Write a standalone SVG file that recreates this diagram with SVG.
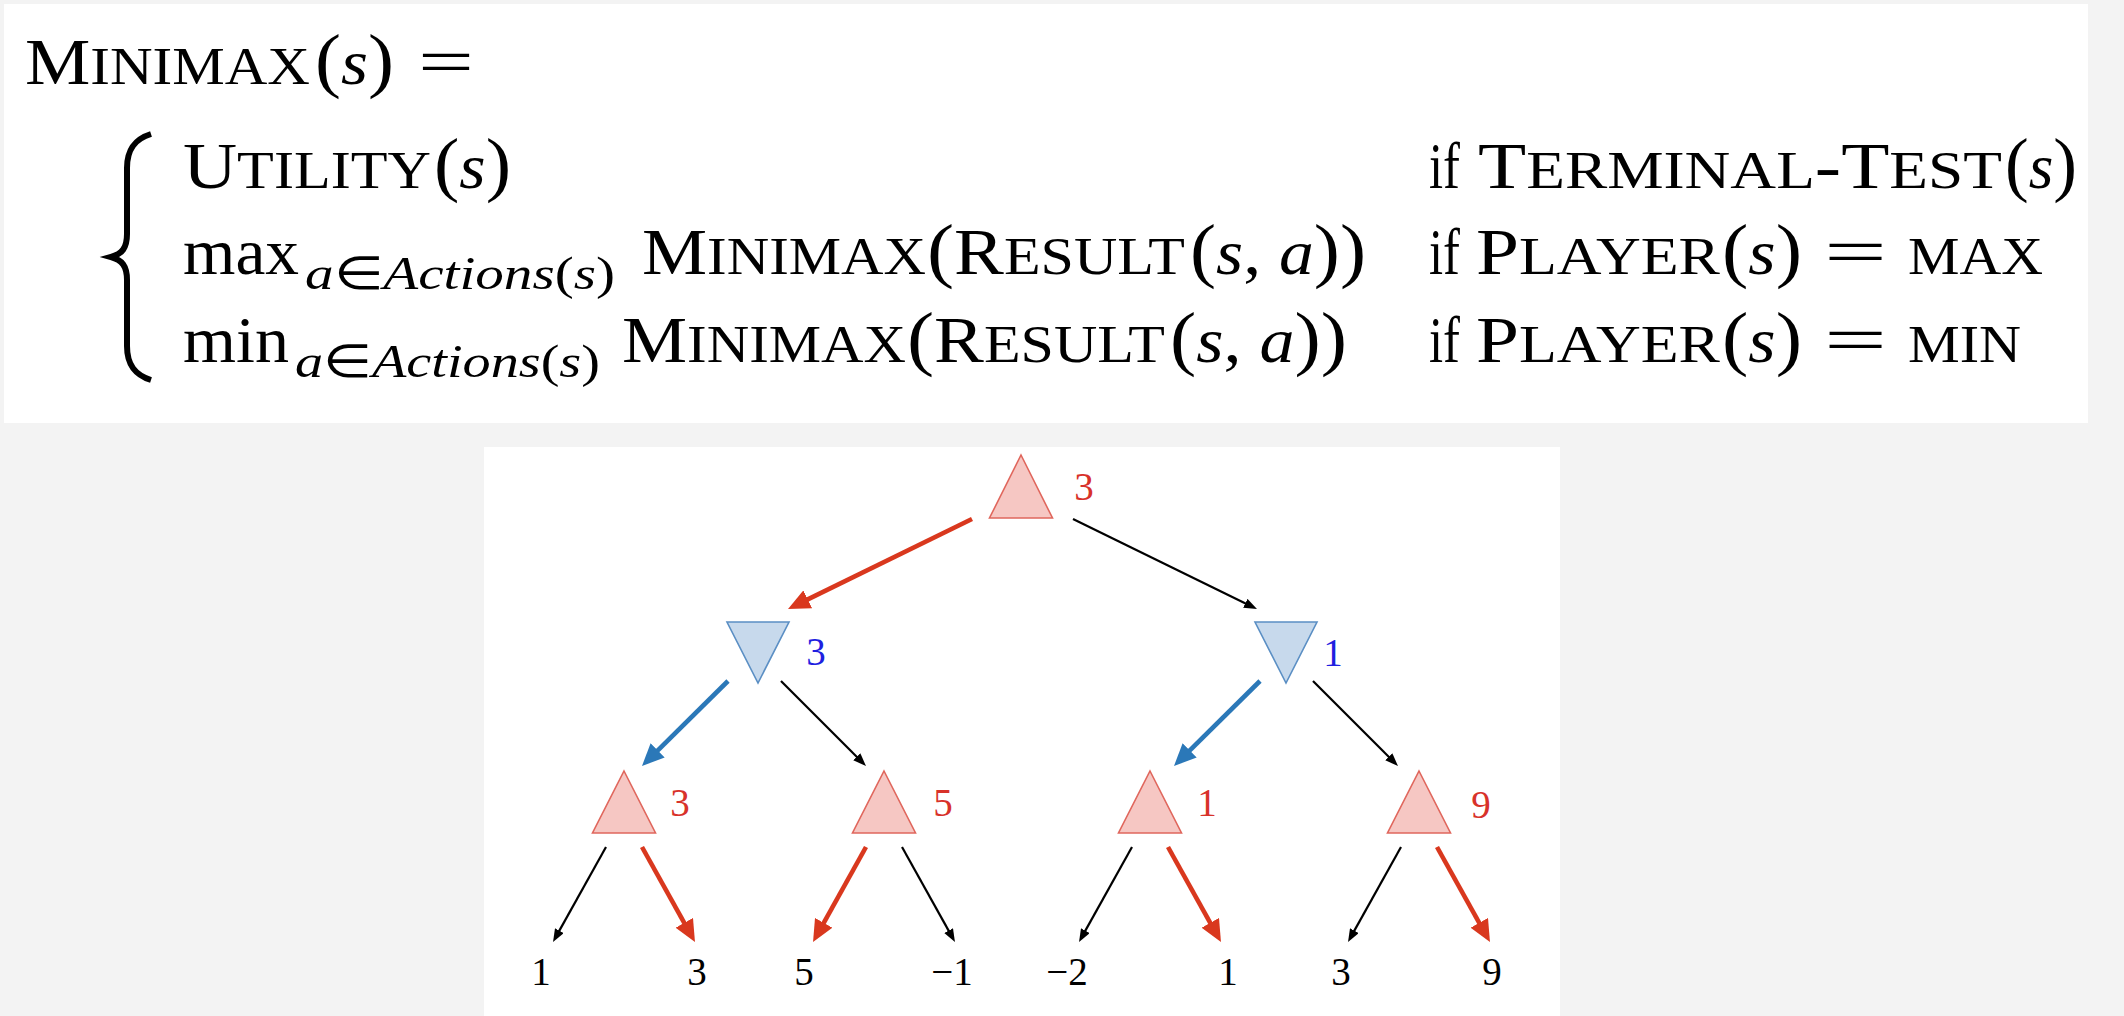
<svg xmlns="http://www.w3.org/2000/svg" width="2124" height="1016" viewBox="0 0 2124 1016">
<defs>
<style>
.t{font-family:"Liberation Serif","Times New Roman",serif;fill:#000}
.C{font-size:66px}
.c{font-size:53px}
.p{font-size:72px}
.i{font-size:64px;font-style:italic}
.n{font-size:66px}
.sub{font-family:"Liberation Serif","Times New Roman",serif;font-size:46px;font-style:italic;fill:#000}
.su{font-style:normal}
.sp{font-size:46px;font-style:normal}
.max{fill:#f6c7c3;stroke:#e0675d;stroke-width:1.6}
.min{fill:#c7d9ec;stroke:#5b8fc4;stroke-width:1.6}
.lr{font-family:"Liberation Serif","Times New Roman",serif;font-size:39px;fill:#d8322a;text-anchor:middle}
.lb{font-family:"Liberation Serif","Times New Roman",serif;font-size:39px;fill:#1f1fe0;text-anchor:middle}
.lk{font-family:"Liberation Serif","Times New Roman",serif;font-size:39px;fill:#000;text-anchor:middle}
.er{stroke:#d9381e;stroke-width:4.6;fill:none;marker-end:url(#ahr)}
.eb{stroke:#2b78b8;stroke-width:4.6;fill:none;marker-end:url(#ahb)}
.ek{stroke:#000;stroke-width:2.2;fill:none;marker-end:url(#ahk)}
</style>
<marker id="ahr" markerUnits="userSpaceOnUse" viewBox="0 0 22 20" markerWidth="22" markerHeight="20" refX="4" refY="10" orient="auto"><path d="M0,0 L22,10 L0,20 z" fill="#d9381e"/></marker>
<marker id="ahb" markerUnits="userSpaceOnUse" viewBox="0 0 22 20" markerWidth="22" markerHeight="20" refX="4" refY="10" orient="auto"><path d="M0,0 L22,10 L0,20 z" fill="#2b78b8"/></marker>
<marker id="ahk" markerUnits="userSpaceOnUse" viewBox="0 0 13 10" markerWidth="13" markerHeight="10" refX="2" refY="5" orient="auto"><path d="M0,0 L13,5 L0,10 z" fill="#000"/></marker>
</defs>
<rect x="0" y="0" width="2124" height="1016" fill="#f3f3f3"/>
<rect x="4" y="4" width="2084" height="419" fill="#fff"/>
<rect x="484" y="447" width="1076" height="569" fill="#fff"/>

<g id="formula">
<text class="t" x="25" y="84" textLength="285" lengthAdjust="spacingAndGlyphs"><tspan class="C">M</tspan><tspan class="c">INIMAX</tspan></text>
<text class="t" x="315" y="84" textLength="79" lengthAdjust="spacingAndGlyphs"><tspan class="p">(</tspan><tspan class="i">s</tspan><tspan class="p">)</tspan></text>
<text class="t n" x="418" y="84" textLength="56" lengthAdjust="spacingAndGlyphs">=</text>

<g id="brace"><path d="M151,134 C135,139 127,149 127,168 L127,234 C127,248 122,254 111,257 C122,260 127,266 127,280 L127,346 C127,365 135,375 151,380" fill="none" stroke="#000" stroke-width="6"/></g>

<text class="t" x="183" y="188" textLength="248" lengthAdjust="spacingAndGlyphs"><tspan class="C">U</tspan><tspan class="c">TILITY</tspan></text>
<text class="t" x="434" y="188" textLength="77" lengthAdjust="spacingAndGlyphs"><tspan class="p">(</tspan><tspan class="i">s</tspan><tspan class="p">)</tspan></text>
<text class="t n" x="1429" y="188" textLength="31" lengthAdjust="spacingAndGlyphs">if</text>
<text class="t" x="1478" y="188" textLength="524" lengthAdjust="spacingAndGlyphs"><tspan class="C">T</tspan><tspan class="c">ERMINAL</tspan><tspan class="C">-T</tspan><tspan class="c">EST</tspan></text>
<text class="t" x="2005" y="188" textLength="72" lengthAdjust="spacingAndGlyphs"><tspan class="p">(</tspan><tspan class="i">s</tspan><tspan class="p">)</tspan></text>

<text class="t n" x="183" y="274" textLength="116" lengthAdjust="spacingAndGlyphs">max</text>
<text class="sub" x="305" y="289" textLength="310" lengthAdjust="spacingAndGlyphs">a<tspan class="su">∈</tspan>Actions<tspan class="sp">(</tspan>s<tspan class="sp">)</tspan></text>
<text class="t" x="642" y="274" textLength="284" lengthAdjust="spacingAndGlyphs"><tspan class="C">M</tspan><tspan class="c">INIMAX</tspan></text>
<text class="t" x="927" y="274" textLength="258" lengthAdjust="spacingAndGlyphs"><tspan class="p">(</tspan><tspan class="C">R</tspan><tspan class="c">ESULT</tspan></text>
<text class="t" x="1190" y="274" textLength="176" lengthAdjust="spacingAndGlyphs"><tspan class="p">(</tspan><tspan class="i">s</tspan><tspan class="n">, </tspan><tspan class="i">a</tspan><tspan class="p">))</tspan></text>
<text class="t n" x="1429" y="274" textLength="31" lengthAdjust="spacingAndGlyphs">if</text>
<text class="t" x="1476" y="274" textLength="244" lengthAdjust="spacingAndGlyphs"><tspan class="C">P</tspan><tspan class="c">LAYER</tspan></text>
<text class="t" x="1722" y="274" textLength="80" lengthAdjust="spacingAndGlyphs"><tspan class="p">(</tspan><tspan class="i">s</tspan><tspan class="p">)</tspan></text>
<text class="t n" x="1824" y="274" textLength="63" lengthAdjust="spacingAndGlyphs">=</text>
<text class="t c" x="1908" y="274" textLength="135" lengthAdjust="spacingAndGlyphs">MAX</text>

<text class="t n" x="183" y="362" textLength="106" lengthAdjust="spacingAndGlyphs">min</text>
<text class="sub" x="295" y="377" textLength="305" lengthAdjust="spacingAndGlyphs">a<tspan class="su">∈</tspan>Actions<tspan class="sp">(</tspan>s<tspan class="sp">)</tspan></text>
<text class="t" x="622" y="362" textLength="284" lengthAdjust="spacingAndGlyphs"><tspan class="C">M</tspan><tspan class="c">INIMAX</tspan></text>
<text class="t" x="907" y="362" textLength="258" lengthAdjust="spacingAndGlyphs"><tspan class="p">(</tspan><tspan class="C">R</tspan><tspan class="c">ESULT</tspan></text>
<text class="t" x="1170" y="362" textLength="177" lengthAdjust="spacingAndGlyphs"><tspan class="p">(</tspan><tspan class="i">s</tspan><tspan class="n">, </tspan><tspan class="i">a</tspan><tspan class="p">))</tspan></text>
<text class="t n" x="1429" y="362" textLength="31" lengthAdjust="spacingAndGlyphs">if</text>
<text class="t" x="1476" y="362" textLength="244" lengthAdjust="spacingAndGlyphs"><tspan class="C">P</tspan><tspan class="c">LAYER</tspan></text>
<text class="t" x="1722" y="362" textLength="80" lengthAdjust="spacingAndGlyphs"><tspan class="p">(</tspan><tspan class="i">s</tspan><tspan class="p">)</tspan></text>
<text class="t n" x="1824" y="362" textLength="63" lengthAdjust="spacingAndGlyphs">=</text>
<text class="t c" x="1908" y="362" textLength="113" lengthAdjust="spacingAndGlyphs">MIN</text>
</g>

<g id="connectors">
<line class="er" x1="972" y1="519" x2="804.2" y2="601.1"/>
<line class="ek" x1="1073" y1="519" x2="1247.1" y2="604.2"/>
<line class="eb" x1="728" y1="681" x2="654.8" y2="753.3"/>
<line class="ek" x1="781" y1="681" x2="858.2" y2="758.2"/>
<line class="eb" x1="1260" y1="681" x2="1186.8" y2="753.3"/>
<line class="ek" x1="1313" y1="681" x2="1390.2" y2="758.2"/>
<line class="ek" x1="606" y1="847" x2="558.4" y2="932.4"/>
<line class="er" x1="642" y1="847" x2="686.2" y2="926.3"/>
<line class="er" x1="866" y1="847" x2="821.8" y2="926.3"/>
<line class="ek" x1="902" y1="847" x2="949.6" y2="932.4"/>
<line class="ek" x1="1132" y1="847" x2="1084.4" y2="932.4"/>
<line class="er" x1="1168" y1="847" x2="1212.2" y2="926.3"/>
<line class="ek" x1="1401" y1="847" x2="1353.4" y2="932.4"/>
<line class="er" x1="1437" y1="847" x2="1481.2" y2="926.3"/>
</g>

<g id="root"><polygon class="max" points="1021,455 1052.5,518 989.5,518"/><text class="lr" x="1084" y="500">3</text></g>
<g id="min-left"><polygon class="min" points="727,622 789,622 758,683"/><text class="lb" x="816" y="665">3</text></g>
<g id="min-right"><polygon class="min" points="1255,622 1317,622 1286,683"/><text class="lb" x="1333" y="666">1</text></g>
<g id="max-1"><polygon class="max" points="624,771 655.5,833 592.5,833"/><text class="lr" x="680" y="816">3</text></g>
<g id="max-2"><polygon class="max" points="884,771 915.5,833 852.5,833"/><text class="lr" x="943" y="816">5</text></g>
<g id="max-3"><polygon class="max" points="1150,771 1181.5,833 1118.5,833"/><text class="lr" x="1207" y="816">1</text></g>
<g id="max-4"><polygon class="max" points="1419,771 1450.5,833 1387.5,833"/><text class="lr" x="1481" y="818">9</text></g>
<g id="leaf-1"><text class="lk" x="541" y="985">1</text></g>
<g id="leaf-2"><text class="lk" x="697" y="985">3</text></g>
<g id="leaf-3"><text class="lk" x="804" y="985">5</text></g>
<g id="leaf-4"><text class="lk" x="952" y="985">−1</text></g>
<g id="leaf-5"><text class="lk" x="1067" y="985">−2</text></g>
<g id="leaf-6"><text class="lk" x="1228" y="985">1</text></g>
<g id="leaf-7"><text class="lk" x="1341" y="985">3</text></g>
<g id="leaf-8"><text class="lk" x="1492" y="985">9</text></g>
</svg>
